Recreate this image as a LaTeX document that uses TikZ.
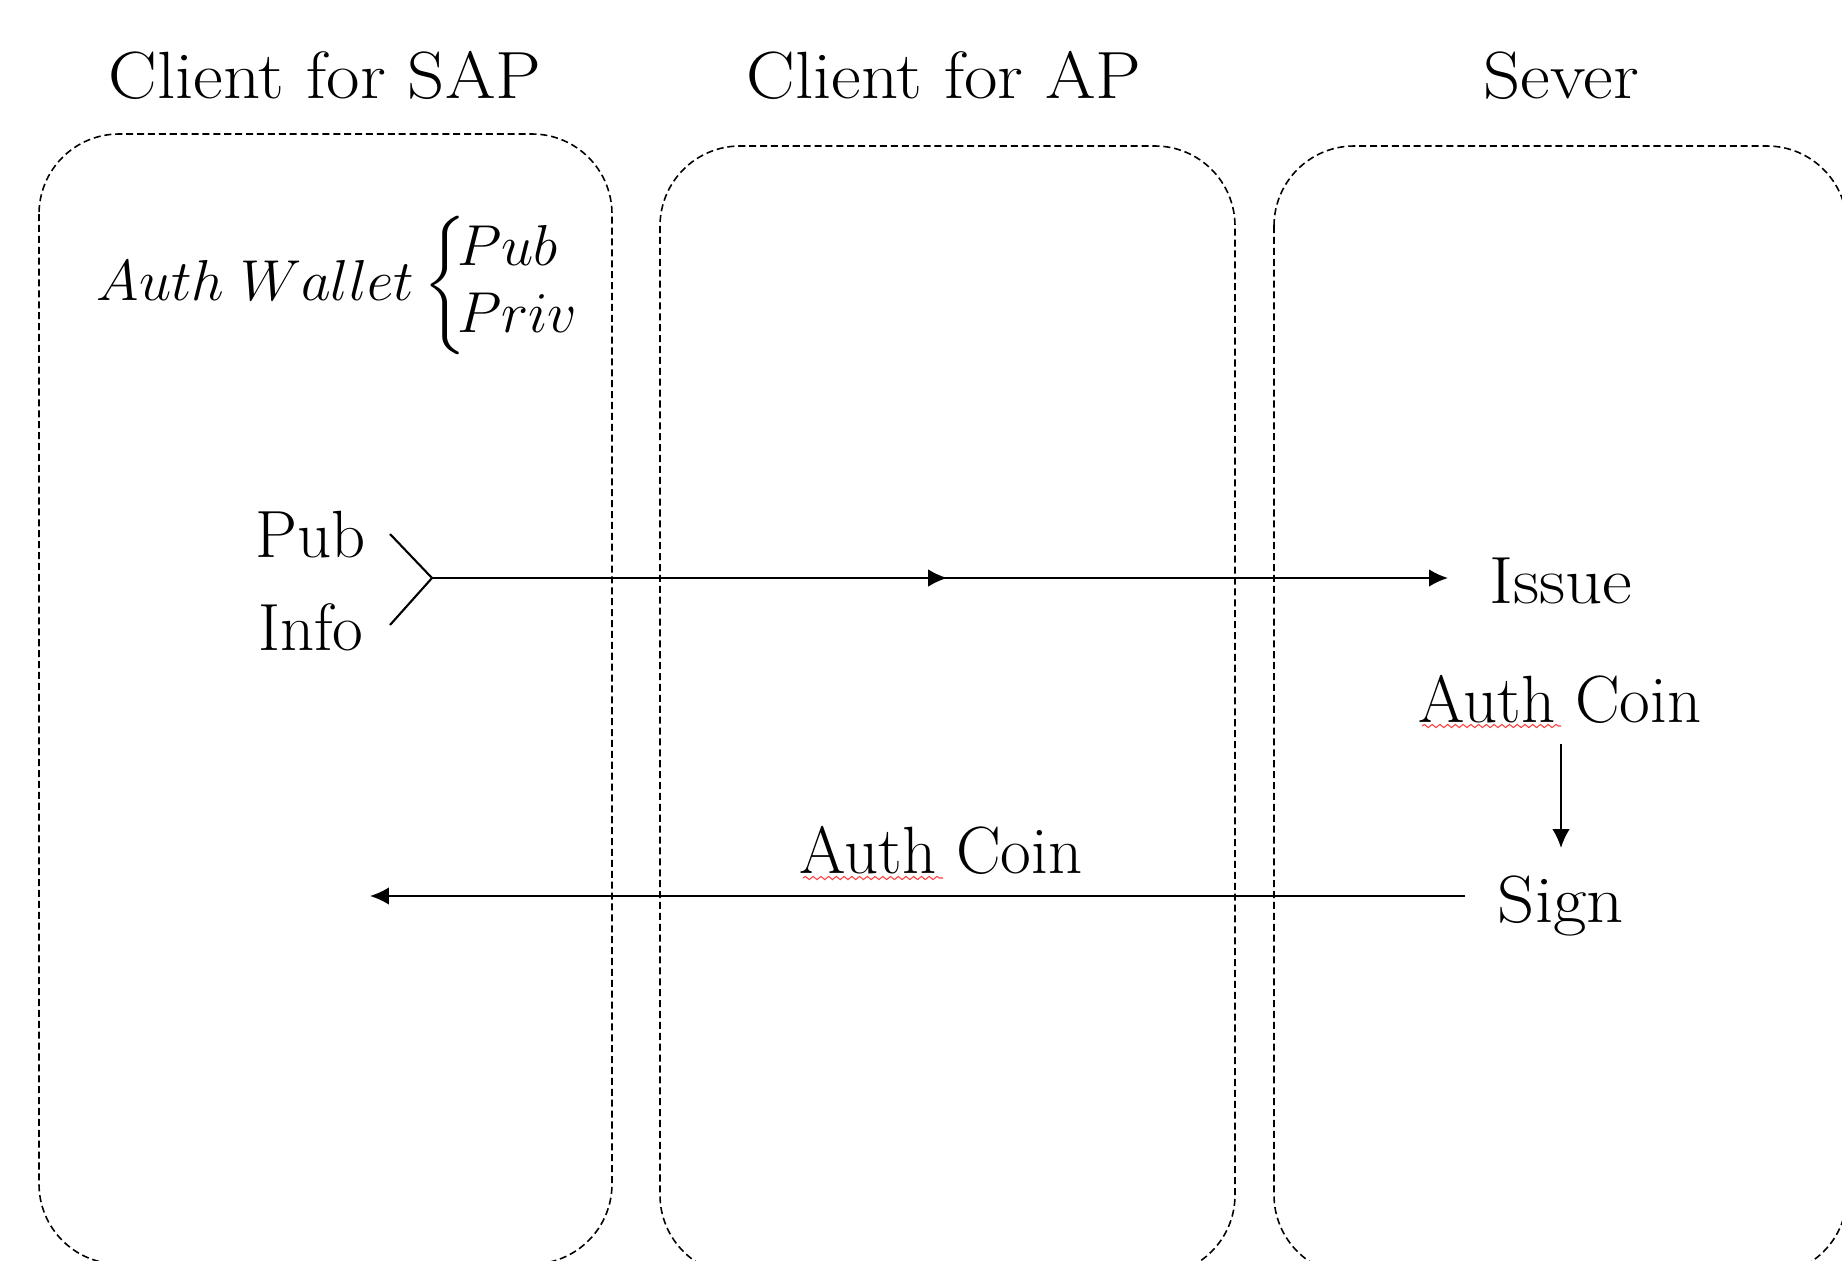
\documentclass[tikz,border=0pt]{standalone}
\usepackage{amsmath}
\usepackage{graphicx}
\usepackage{fontspec}
\newfontfamily\widefont{Latin Modern Roman}[FakeStretch=1.09]
\usetikzlibrary{arrows.meta,decorations.markings,decorations.pathmorphing}
\begin{document}
\begin{tikzpicture}[x=0.01cm,y=-0.01cm,
  lane/.style={draw,dash pattern=on 2pt off 1.1pt,line width=0.45pt,rounded corners=0.8cm},
  lbl/.style={inner sep=0pt,anchor=base,font=\fontsize{19}{23}\selectfont},
  wlbl/.style={inner sep=0pt,anchor=base,font=\widefont\fontsize{19}{23}\selectfont},
  conn/.style={line width=0.6pt},
  tip/.style={-{Latex[length=5.4pt,width=5pt]}},
  midtip/.style={postaction={decorate},decoration={markings,mark=at position #1 with {\arrow{Latex[length=5.4pt,width=5pt]}}}},
  squig/.style={red!75,line width=0.3pt,decorate,decoration={snake,amplitude=0.45pt,segment length=2.2pt}}
]
\useasboundingbox (0,0) rectangle (1842,1260);
\clip (0,0) rectangle (1842,1260);

% lanes
\path[lane] (39,134) rectangle (612,1264);
\path[lane] (660,146) rectangle (1235,1275);
\path[lane] (1274,146) rectangle (1847,1275);

% titles
\node[wlbl] (t1) at (325,98) {Client for SAP};
\node[wlbl] (t2) at (944,98) {Client for AP};
\node[wlbl] (t3) at (1561,98) {Sever};

% wallet
\node[inner sep=0pt,anchor=base west,font=\fontsize{17.28}{20}\selectfont] (wallet) at (96,300)
  {\scalebox{0.95}{\renewcommand{\arraystretch}{1.0}$Auth\;Wallet\left\{\!\begin{array}{@{}l@{}}Pub\\Priv\end{array}\right.$}};

% left inputs
\node[lbl] (pub) at (311,557) {Pub};
\node[lbl] (info) at (311,650) {Info};
\coordinate (pubend) at (390,534);
\coordinate (infoend) at (390,625);
\coordinate (fork) at (432,578);

% server side
\node[wlbl] (issue) at (1561,603) {Issue};
\node[lbl] (coin1) at (1560,722) {Auth Coin};
\node[wlbl] (sign) at (1561,922) {Sign};
\node[lbl] (coin2) at (941,873) {Auth Coin};

\coordinate (issuein) at (1448,578);
\coordinate (downstart) at (1561,744);
\coordinate (downend) at (1561,848);
\coordinate (signout) at (1465,896);
\coordinate (sapin) at (370,896);

% connectors
\draw[conn] (pubend) -- (fork) -- (infoend);
\draw[conn,tip,midtip=0.507] (fork) -- (issuein);
\draw[conn,tip] (downstart) -- (downend);
\draw[conn,tip] (signout) -- (sapin);

% spell-check squiggles
\draw[squig] (1422,726) -- (1561,726);
\draw[squig] (803,878) -- (943,878);
\end{tikzpicture}
\end{document}
